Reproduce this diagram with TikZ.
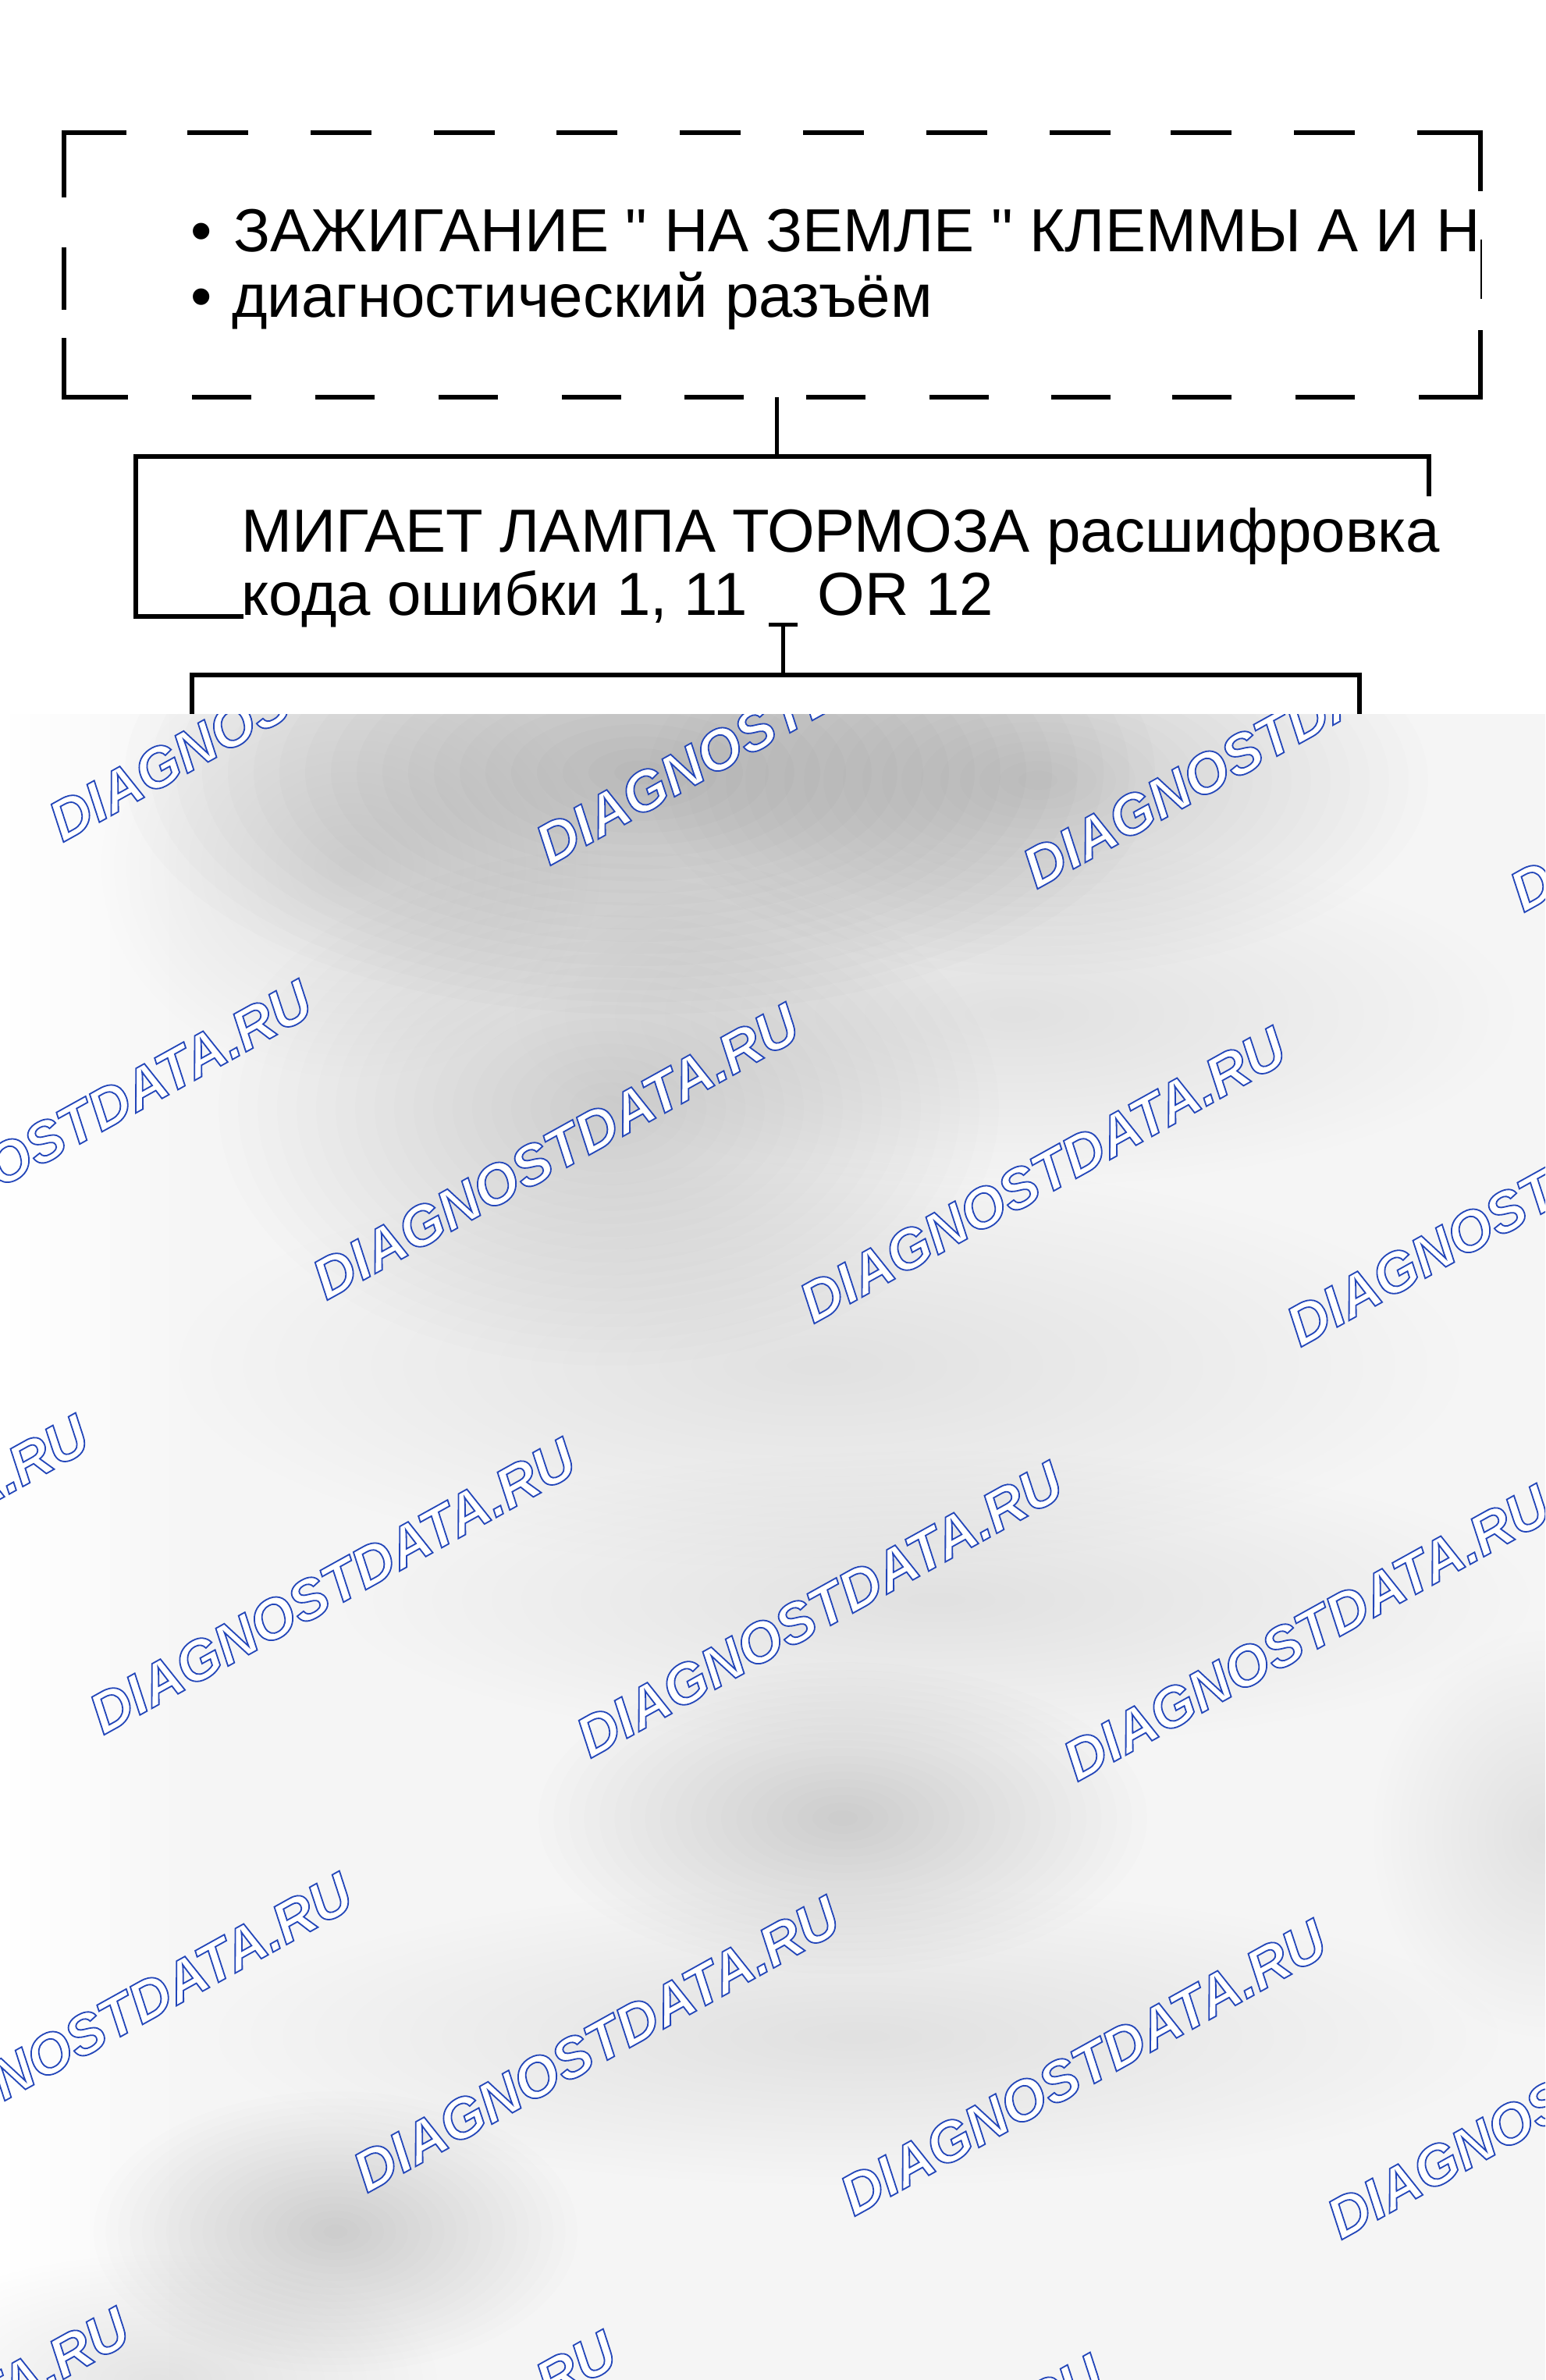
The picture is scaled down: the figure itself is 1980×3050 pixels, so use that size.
\documentclass[tikz,border=0pt]{standalone}
\usepackage{fontspec}
\newfontfamily\arialfont{Liberation Sans}
\definecolor{wmblue}{RGB}{35,70,185}
\tikzset{
  txt/.style={anchor=base west, inner sep=0pt, text height=28pt, text depth=7pt,
    font=\arialfont\fontsize{39pt}{40pt}\selectfont},
  frame/.style={line width=3.3pt, line cap=butt},
  thinframe/.style={line width=1pt},
  boxline/.style={line width=3pt, line cap=rect},
  conn/.style={line width=2.5pt},
  wm/.style={anchor=base west, rotate=29, inner sep=0pt, text=wmblue,
    font=\arialfont\fontsize{36.3pt}{37pt}\selectfont\bfseries\itshape},
}
\newcommand\blob[6][black]{%
  \foreach \k in {0,...,19}{%
    \fill[#1, fill opacity=#6] (#2,#3) ellipse [x radius={#4*(1-\k/20)*0.5pt}, y radius={#5*(1-\k/20)*0.5pt}];
  }%
}
\newcommand\wmtext{\special{pdf:literal direct 2 Tr 0.9 w 1 g}DIAGNOSTDATA.RU}
\begin{document}
\begin{tikzpicture}[x=0.5pt, y=-0.5pt]
\useasboundingbox (0,0) rectangle (1980,3050);
\fill[white] (0,0) rectangle (1980,3050);

% ---------- dashed box ----------
\node[inner sep=0pt, minimum width=907.5pt, minimum height=169.5pt] (dbox) at (989.5,339.5) {};
\draw[frame] (82,253) -- (82,170) -- (162,170);
\foreach \a in {240,398,556,713,871,1029,1187,1345,1500,1658}
  \draw[frame] (\a,170) -- ++(78,0);
\draw[frame] (1816,170) -- (1897,170) -- (1897,245);
\draw[thinframe] (1898,307) -- (1898,383);
\draw[frame] (1897,423) -- (1897,509) -- (1818,509);
\foreach \a in {246,404,562,720,877,1033,1191,1347,1502,1660}
  \draw[frame] (\a,509) -- ++(76,0);
\draw[frame] (82,317) -- (82,397);
\draw[frame] (82,433) -- (82,509) -- (164,509);

\node[txt] (l1) at (244,323) {\makebox[27.5pt][l]{•}ЗАЖИГАНИЕ " НА ЗЕМЛЕ " КЛЕММЫ А И Н};
\node[txt] (l2) at (244,407) {\makebox[26.5pt][l]{•}диагностический разъём};

% ---------- box 2 ----------
\node[inner sep=0pt, minimum width=828.5pt, minimum height=102.5pt] (mbox) at (1002.5,687.5) {};
\draw[boxline] (174,790) -- (174,585) -- (1831,585) -- (1831,633);
\draw[boxline] (174,790) -- (309,790);
\node[txt] (m1) at (309,707) {МИГАЕТ ЛАМПА ТОРМОЗА расшифровка};
\node[txt] (m2) at (309,788) {кода ошибки 1, 11\hspace{45pt}OR 12};

% ---------- box 3 (top) ----------
\draw[boxline] (246,930) -- (246,865) -- (1742,865) -- (1742,930);

% ---------- connectors ----------
\coordinate (c1a) at (995,509);
\coordinate (c1b) at (995,585);
\draw[conn] (c1a) -- (c1b);
\coordinate (c2a) at (1003,800);
\coordinate (c2b) at (1003,865);
\coordinate (c2l) at (985,800);
\coordinate (c2r) at (1022,800);
\draw[conn] (c2a) -- (c2b);
\draw[conn] (c2l) -- (c2r);

% ---------- blurred, watermarked lower part ----------
\begin{scope}
\clip (0,915) rectangle (1980,3050);
\fill[black!4] (0,915) rectangle (1980,3050);
\shade[left color=white, right color=black!4] (0,915) rectangle (260,3050);
\blob{820}{990}{660}{310}{0.0130}
\blob{450}{1110}{320}{270}{0.0055}
\blob{1330}{1000}{500}{250}{0.0065}
\blob{780}{1420}{500}{330}{0.0085}
\blob{1300}{1300}{640}{220}{0.0045}
\blob{1050}{1750}{820}{260}{0.0036}
\blob{1200}{2050}{760}{190}{0.0045}
\blob{1080}{2330}{390}{200}{0.0066}
\blob{1980}{2350}{220}{260}{0.0031}
\blob{1100}{2610}{820}{190}{0.0033}
\blob{430}{2860}{310}{180}{0.0078}
\blob[blue!60!black]{200}{3050}{360}{160}{0.0026}
\foreach \j/\lo in {0/0,1/-1,2/-2,3/-2,4/-3}
  \foreach \n in {0,...,3}
    \node[wm] (w\j\n) at ({80+(\lo+\n)*624+\j*338},{1080+(\lo+\n)*30+\j*587}) {\wmtext};
\end{scope}
\end{tikzpicture}
\end{document}
